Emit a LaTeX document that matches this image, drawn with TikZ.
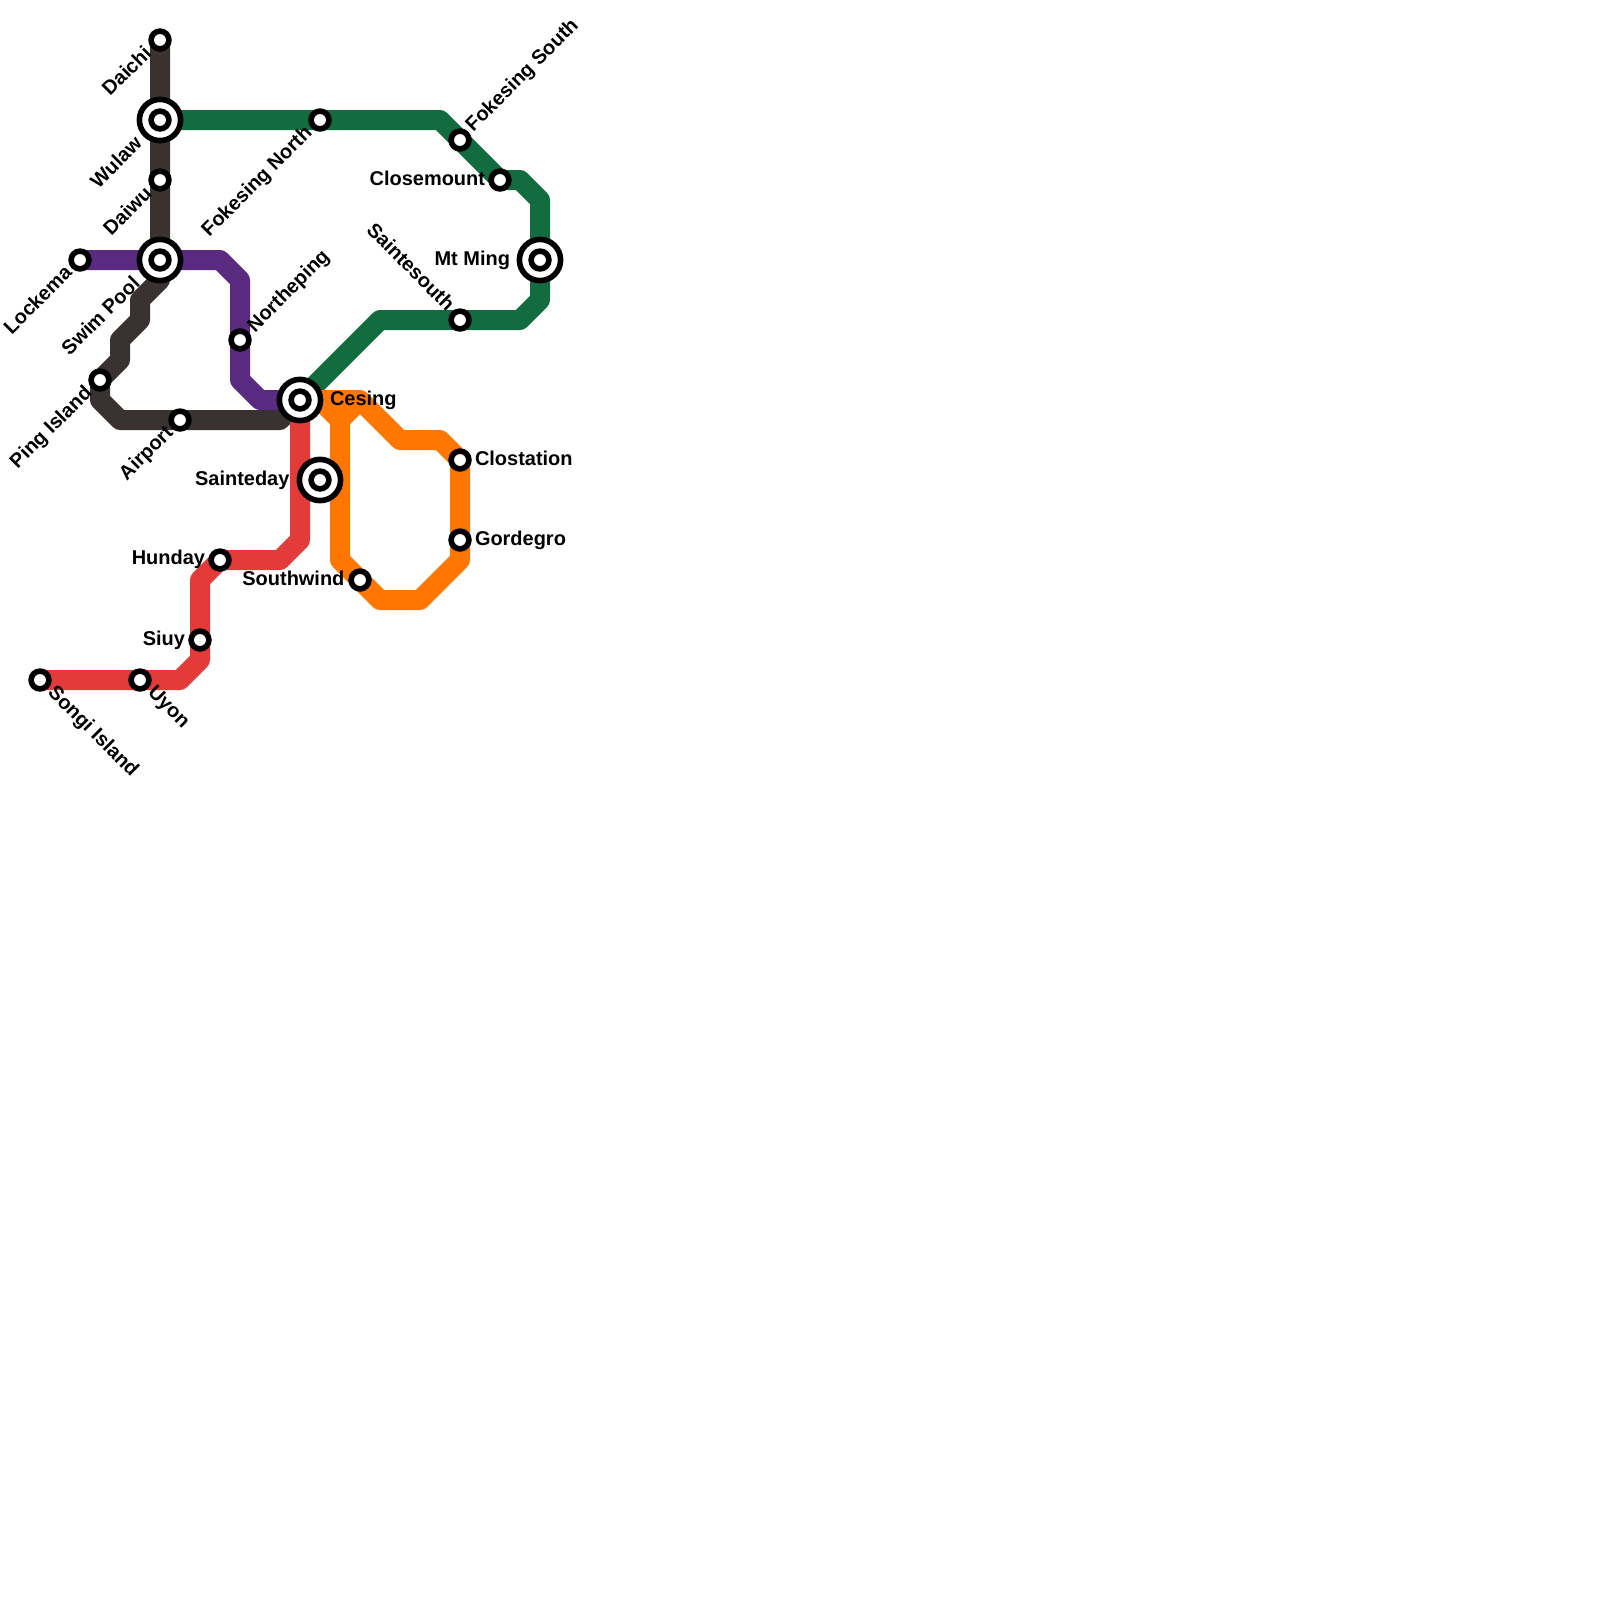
\documentclass[tikz,border=0pt]{standalone}
\usepackage{fontspec}
\setmainfont{Liberation Sans}
\usetikzlibrary{backgrounds}
\definecolor{colorDark}{HTML}{3A3230}
\definecolor{colorPurple}{HTML}{592A80}
\definecolor{colorGreen}{HTML}{136B40}
\definecolor{colorRed}{HTML}{E33A3A}
\definecolor{colorOrange}{HTML}{FF7700}
\tikzset{
   metro/.style={line width=0.5cm,line join=round},
   dk/.style={metro,color=colorDark},
   pu/.style={metro,color=colorPurple},
   gr/.style={metro,color=colorGreen},
   re/.style={metro,color=colorRed},
   or/.style={metro,color=colorOrange},
   stn/.style={circle,draw=black,fill=white,line width=0.14cm,inner sep=0pt,outer sep=0pt,minimum size=0.445cm},
   xchg/.style={circle,draw=black,fill=white,line width=0.14cm,inner sep=0pt,outer sep=0pt,minimum size=1.03cm},
   lbl/.style={font=\bfseries\fontsize{14.2}{16}\selectfont,inner sep=0pt,outer sep=0pt},
   lw/.style={lbl,anchor=base east},
   le/.style={lbl,anchor=base west},
   lsw/.style={lbl,anchor=base east,rotate=45},
   lne/.style={lbl,anchor=base west,rotate=45},
   lnw/.style={lbl,anchor=base east,rotate=-45},
   lse/.style={lbl,anchor=base west,rotate=-45},
}
\begin{document}
\begin{tikzpicture}[x=0.5cm,y=-0.5cm]
    \useasboundingbox (0,0) rectangle (80,80);

    \node[stn] (daichi) at (8,2) {};
    \node[xchg] (wulawo) at (8,6) {};
    \node[stn] (wulaw) at (8,6) {};
    \node[stn] (daiwu) at (8,9) {};
    \node[xchg] (swimo) at (8,13) {};
    \node[stn] (swim) at (8,13) {};
    \node[stn] (lockema) at (4,13) {};
    \node[stn] (northeping) at (12,17) {};
    \node[xchg] (cesingo) at (15,20) {};
    \node[stn] (cesing) at (15,20) {};
    \node[stn] (ping) at (5,19) {};
    \node[stn] (airport) at (9,21) {};
    \node[xchg] (saintedayo) at (16,24) {};
    \node[stn] (sainteday) at (16,24) {};
    \node[stn] (fnorth) at (16,6) {};
    \node[stn] (fsouth) at (23,7) {};
    \node[stn] (closemount) at (25,9) {};
    \node[xchg] (mingo) at (27,13) {};
    \node[stn] (ming) at (27,13) {};
    \node[stn] (saintesouth) at (23,16) {};
    \node[stn] (clostation) at (23,23) {};
    \node[stn] (gordegro) at (23,27) {};
    \node[stn] (southwind) at (18,29) {};
    \node[stn] (hunday) at (11,28) {};
    \node[stn] (siuy) at (10,32) {};
    \node[stn] (uyon) at (7,34) {};
    \node[stn] (songi) at (2,34) {};

    \node[lsw] (tdaichi) at (7.63,2.73) {Daichi};
    \node[lsw] (twulaw) at (7.15,7.25) {Wulaw};
    \node[lsw] (tdaiwu) at (7.65,9.75) {Daiwu};
    \node[lsw] (tswim) at (7.05,14.25) {Swim Pool};
    \node[lsw] (tlockema) at (3.65,13.7) {Lockema};
    \node[lsw] (tping) at (4.65,19.7) {Ping Island};
    \node[lsw] (tairport) at (8.7,21.7) {Airport};
    \node[lsw] (tfnorth) at (15.65,6.7) {Fokesing North};
    \node[lne] (tnortheping) at (12.75,16.65) {Northeping};
    \node[lne] (tfsouth) at (23.67,6.62) {Fokesing South};
    \node[lnw] (tsaintesouth) at (22.32,15.6) {Saintesouth};
    \node[lse] (tsongi) at (2.35,34.68) {Songi Island};
    \node[lse] (tuyon) at (7.35,34.68) {Uyon};
    \node[lw] (tclosemount) at (24.25,9.25) {Closemount};
    \node[lw] (tming) at (25.5,13.25) {Mt Ming};
    \node[le] (tcesing) at (16.5,20.25) {Cesing};
    \node[lw] (tsainteday) at (14.47,24.25) {Sainteday};
    \node[le] (tclostation) at (23.75,23.25) {Clostation};
    \node[le] (tgordegro) at (23.75,27.25) {Gordegro};
    \node[lw] (tsouthwind) at (17.22,29.25) {Southwind};
    \node[lw] (thunday) at (10.25,28.23) {Hunday};
    \node[lw] (tsiuy) at (9.25,32.25) {Siuy};

    \begin{scope}[on background layer]
        \draw[dk] (daichi.center) -- (wulaw.center) -- (daiwu.center) -- (swim.center) -- (8,14) -- (7,15) -- (7,16) -- (6,17) -- (6,18) -- (ping.center) -- (5,20) -- (6,21) -- (airport.center) -- (14,21) -- (cesing.center);
        \draw[pu] (lockema.center) -- (swim.center) -- (11,13) -- (12,14) -- (northeping.center) -- (12,19) -- (13,20) -- (cesing.center);
        \draw[gr] (wulaw.center) -- (fnorth.center) -- (22,6) -- (fsouth.center) -- (closemount.center) -- (26,9) -- (27,10) -- (ming.center) -- (27,15) -- (26,16) -- (saintesouth.center) -- (19,16) -- (cesing.center);
        \draw[re] (cesing.center) -- (15,27) -- (14,28) -- (hunday.center) -- (10,29) -- (siuy.center) -- (10,33) -- (9,34) -- (uyon.center) -- (songi.center);
        \draw[or] (cesing.center) -- (18,20) -- (20,22) -- (22,22) -- (clostation.center) -- (gordegro.center) -- (23,28) -- (21,30) -- (19,30) -- (southwind.center) -- (17,28) -- (17,21) -- (16,20);
        \draw[or] (17,21) -- (18,20);
    \end{scope}
\end{tikzpicture}
\end{document}
